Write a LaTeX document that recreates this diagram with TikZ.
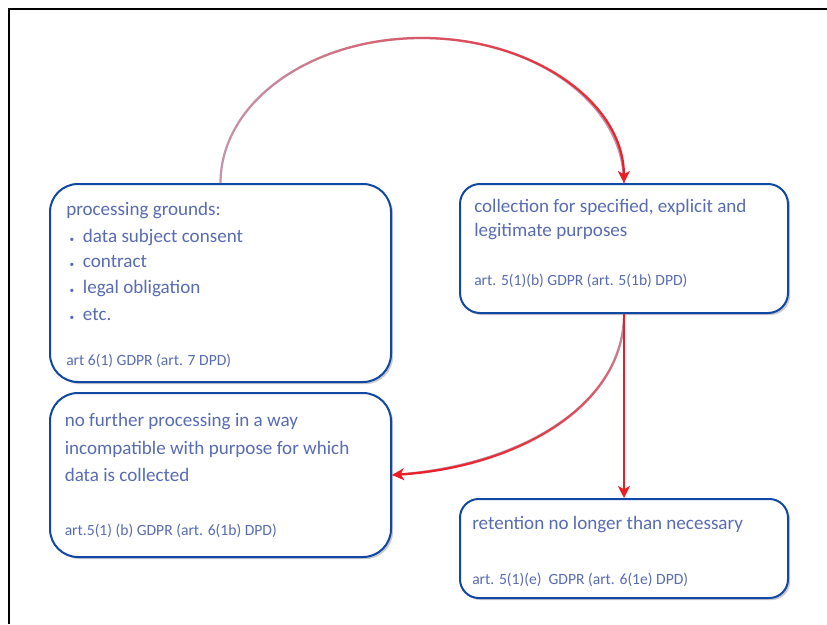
\documentclass[tikz,border=0pt]{standalone}
\usepackage{fontspec}
\setmainfont{Carlito}
\usetikzlibrary{arrows.meta,shadows,fadings}
\definecolor{bxblue}{RGB}{16,72,164}
\definecolor{txblue}{RGB}{88,108,180}
\definecolor{arred}{RGB}{236,28,36}
\definecolor{armauve}{RGB}{196,150,172}
\tikzfading[name=fadelr, left color=transparent!100, middle color=transparent!45, right color=transparent!0]
\tikzfading[name=fadetb, top color=transparent!100, middle color=transparent!40, bottom color=transparent!0]
\tikzset{
  box/.style={draw=bxblue, line width=1.5pt, fill=white, rectangle, inner sep=0pt,
    drop shadow={shadow xshift=1.6pt, shadow yshift=-1.6pt, opacity=0.35, fill=black!60}},
  big/.style={text=txblue, font=\fontsize{14.3}{17}\selectfont, inner sep=0pt, anchor=base west},
  small/.style={text=txblue, font=\fontsize{11.7}{14}\selectfont, inner sep=0pt, anchor=base west},
  under/.style={draw=armauve, line width=1.7pt},
  conn/.style={draw=arred, line width=1.7pt, -{Stealth[length=9pt,width=9pt,inset=2.5pt]}},
}
\newcommand{\bul}{\llap{\makebox[10pt][l]{\fontsize{7}{10}\selectfont•}}}
\begin{document}
\begin{tikzpicture}[x=0.75pt,y=-0.75pt]
\useasboundingbox (0,0) rectangle (827,624);
% frame
\draw[line width=2pt, black] (9,624) -- (9,9) -- (827,9);
% boxes
\node[box, rounded corners=21pt, minimum width=255.75pt, minimum height=148.5pt] (b1) at (220.5,283) {};
\node[box, rounded corners=15pt, minimum width=246pt, minimum height=96.75pt] (b2) at (624,248.5) {};
\node[box, rounded corners=21pt, minimum width=255.75pt, minimum height=123pt] (b3) at (220.5,475) {};
\node[box, rounded corners=14pt, minimum width=246pt, minimum height=74.25pt] (b4) at (624,548.5) {};
% box 1 text
\node[big] (t1a) at (66,215) {processing grounds:};
\node[big] (t1b) at (82.7,242) {\bul data subject consent};
\node[big] (t1c) at (82.7,267) {\bul contract};
\node[big] (t1d) at (82.7,293) {\bul legal obligation};
\node[big] (t1e) at (82.7,320) {\bul etc.};
\node[small] (t1f) at (66,365.5) {art 6(1) GDPR (art. 7 DPD)};
% box 2 text
\node[big] (t2a) at (474,212) {collection for specified, explicit and};
\node[big] (t2b) at (474,236) {legitimate purposes};
\node[small] (t2c) at (474,285) {art. 5(1)(b) GDPR (art. 5(1b) DPD)};
% box 3 text
\node[big] (t3a) at (64.5,426.5) {no further processing in a way};
\node[big] (t3b) at (64.5,454) {incompatible with purpose for which};
\node[big] (t3c) at (64.5,481.5) {data is collected};
\node[small] (t3d) at (64.5,535.5) {art.5(1) (b) GDPR (art. 6(1b) DPD)};
% box 4 text
\node[big] (t4a) at (472,529) {retention no longer than necessary};
\node[small] (t4b) at (472,584) {art. 5(1)(e)\ \ GDPR (art. 6(1e) DPD)};
% connectors
\coordinate (top) at (421.75,38);
\draw[under] (b1.north) .. controls +(0,-80.6) and +(-111.4,0) .. (top) .. controls +(111.4,0) and +(0,-80.6) .. (b2.north);
\draw[conn, path fading=fadelr] (b1.north) .. controls +(0,-80.6) and +(-111.4,0) .. (top) .. controls +(111.4,0) and +(0,-80.6) .. (b2.north);
\draw[under] (b2.south) .. controls +(0,92) and +(126,-8) .. (b3.east);
\draw[conn, path fading=fadetb] (b2.south) .. controls +(0,92) and +(126,-8) .. (b3.east);
\draw[conn] (b2.south) -- (b4.north);
\end{tikzpicture}
\end{document}
